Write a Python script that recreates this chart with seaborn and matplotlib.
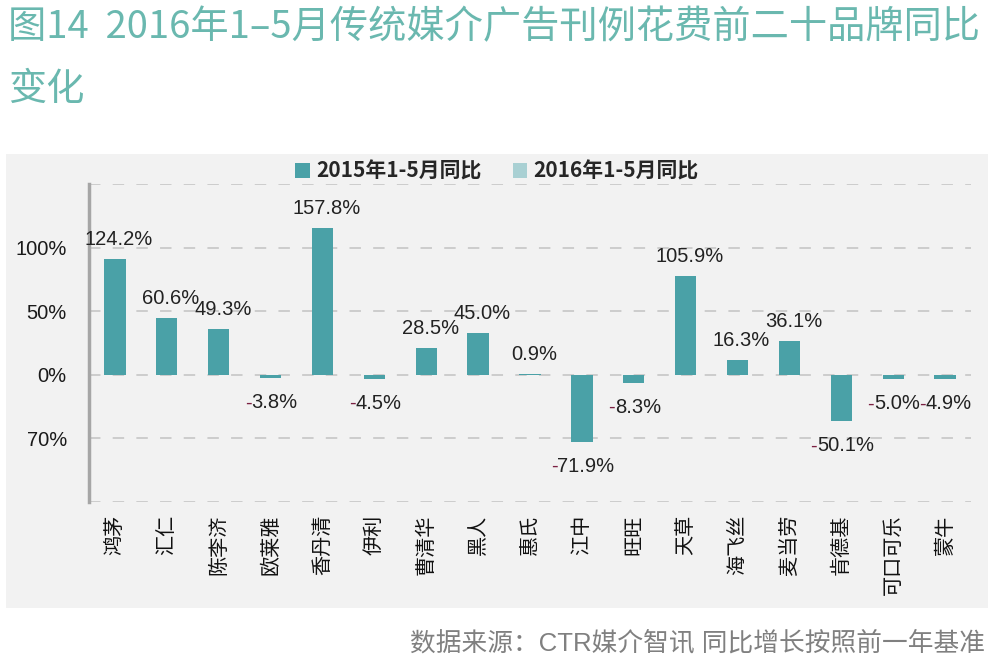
import matplotlib
matplotlib.use("Agg")
import matplotlib.pyplot as plt
from matplotlib.patches import Patch, Rectangle
import pandas as pd
import seaborn as sns

# 数据（柱高按图上刻度读取，标签为图上数值）
brands = ["鸿茅", "汇仁", "陈李济", "欧莱雅", "香丹清", "伊利", "曹清华", "黑人", "惠氏",
          "江中", "旺旺", "天草", "海飞丝", "麦当劳", "肯德基", "可口可乐", "蒙牛"]
bar_height = [91.0, 44.5, 36.0, -2.8, 115.6, -3.3, 20.9, 33.0, 1.0,
              -52.5, -6.1, 77.5, 12.0, 26.5, -36.7, -3.7, -3.6]
label_pct = [124.2, 60.6, 49.3, -3.8, 157.8, -4.5, 28.5, 45.0, 0.9,
             -71.9, -8.3, 105.9, 16.3, 36.1, -50.1, -5.0, -4.9]
y_ticks = [-100, -50, 0, 50, 100, 150]
y_tick_labels = ["", "70%", "0%", "50%", "100%", ""]
series_names = ["2015年1-5月同比", "2016年1-5月同比"]

title = "图14  2016年1–5月传统媒介广告刊例花费前二十品牌同比\n变化"
source = "数据来源：CTR媒介智讯 同比增长按照前一年基准"

TEAL = "#4aa1a7"
LIGHT = "#a9d0d3"

sns.set_style("white")
plt.rcParams["font.family"] = ["Liberation Sans", "Noto Sans CJK SC", "DejaVu Sans"]

df = pd.DataFrame({"brand": brands, "height": bar_height, "label": label_pct})

fig = plt.figure(figsize=(9.97, 6.68), dpi=100)
fig.patches.append(Rectangle((0.006, 0.0898), 0.985, 0.6796, transform=fig.transFigure,
                             facecolor="#f2f2f2", edgecolor="none", zorder=-1))
ax = fig.add_axes([0.0893, 0.2485, 0.8846, 0.4761])
ax.set_facecolor("none")
ax.set_zorder(1)

sns.barplot(data=df, x="brand", y="height", color=TEAL, saturation=1, width=0.41,
            linewidth=0, edgecolor="none", ax=ax, zorder=3)
ax.set_xlim(-0.5, len(brands) - 0.5)
ax.set_ylim(-100, 150)
ax.set_xlabel("")
ax.set_ylabel("")

# 虚线网格
for yv in y_ticks:
    ax.axhline(yv, color="#c3c3c3", lw=1.1, linestyle=(0, (7.5, 8)), zorder=1)

ax.set_yticks(y_ticks)
ax.set_yticklabels(y_tick_labels, fontsize=14.5, color="#1a1a1a")
ax.tick_params(axis="y", length=6, width=2, color="#a6a6a6", pad=10, direction="out")
ax.tick_params(axis="x", length=0, pad=9)
ax.set_xticks(range(len(brands)))
ax.set_xticklabels(brands, rotation=90, fontsize=14.5, color="#111111",
                   family=["Noto Sans CJK SC"])

for s in ["top", "right", "bottom"]:
    ax.spines[s].set_visible(False)
ax.spines["left"].set_color("#a6a6a6")
ax.spines["left"].set_linewidth(2.5)

# 数据标签
for i, (h, v) in enumerate(zip(bar_height, label_pct)):
    num = f"{abs(v):.1f}%"
    if v >= 0:
        t = ax.annotate(num, xy=(i, h), xytext=(4, 14), textcoords="offset pixels",
                        ha="center", va="baseline", fontsize=14.5, color="#222222", zorder=5)
    else:
        t = ax.annotate(num, xy=(i, h), xytext=(4, -15), textcoords="offset pixels",
                        ha="center", va="top", fontsize=14.5, color="#222222", zorder=5)
        ax.annotate("-", xy=(0, 0), xycoords=t, ha="right", va="bottom",
                    fontsize=14.5, color="#7b2042", zorder=6)

# 图例
handles = [Patch(facecolor=TEAL, edgecolor="none"), Patch(facecolor=LIGHT, edgecolor="none")]
fig.legend(handles, series_names, loc="center", bbox_to_anchor=(0.4985, 0.744), ncol=2,
           frameon=False, handlelength=0.7, handleheight=0.7, handletextpad=0.3,
           columnspacing=1.5, prop={"family": ["Noto Sans CJK SC"], "size": 15,
                                    "weight": "bold"})

fig.text(0.008, 0.988, title, ha="left", va="top", fontsize=27.5, color="#6ab8af",
         family=["Noto Sans CJK SC", "DejaVu Sans"], weight="light", linespacing=1.75)
fig.text(0.988, 1 - 643 / 668, source, ha="right", va="center", fontsize=18.5,
         color="#808080", family=["Liberation Sans", "Noto Sans CJK SC"])

fig.savefig("out.png", dpi=100)
